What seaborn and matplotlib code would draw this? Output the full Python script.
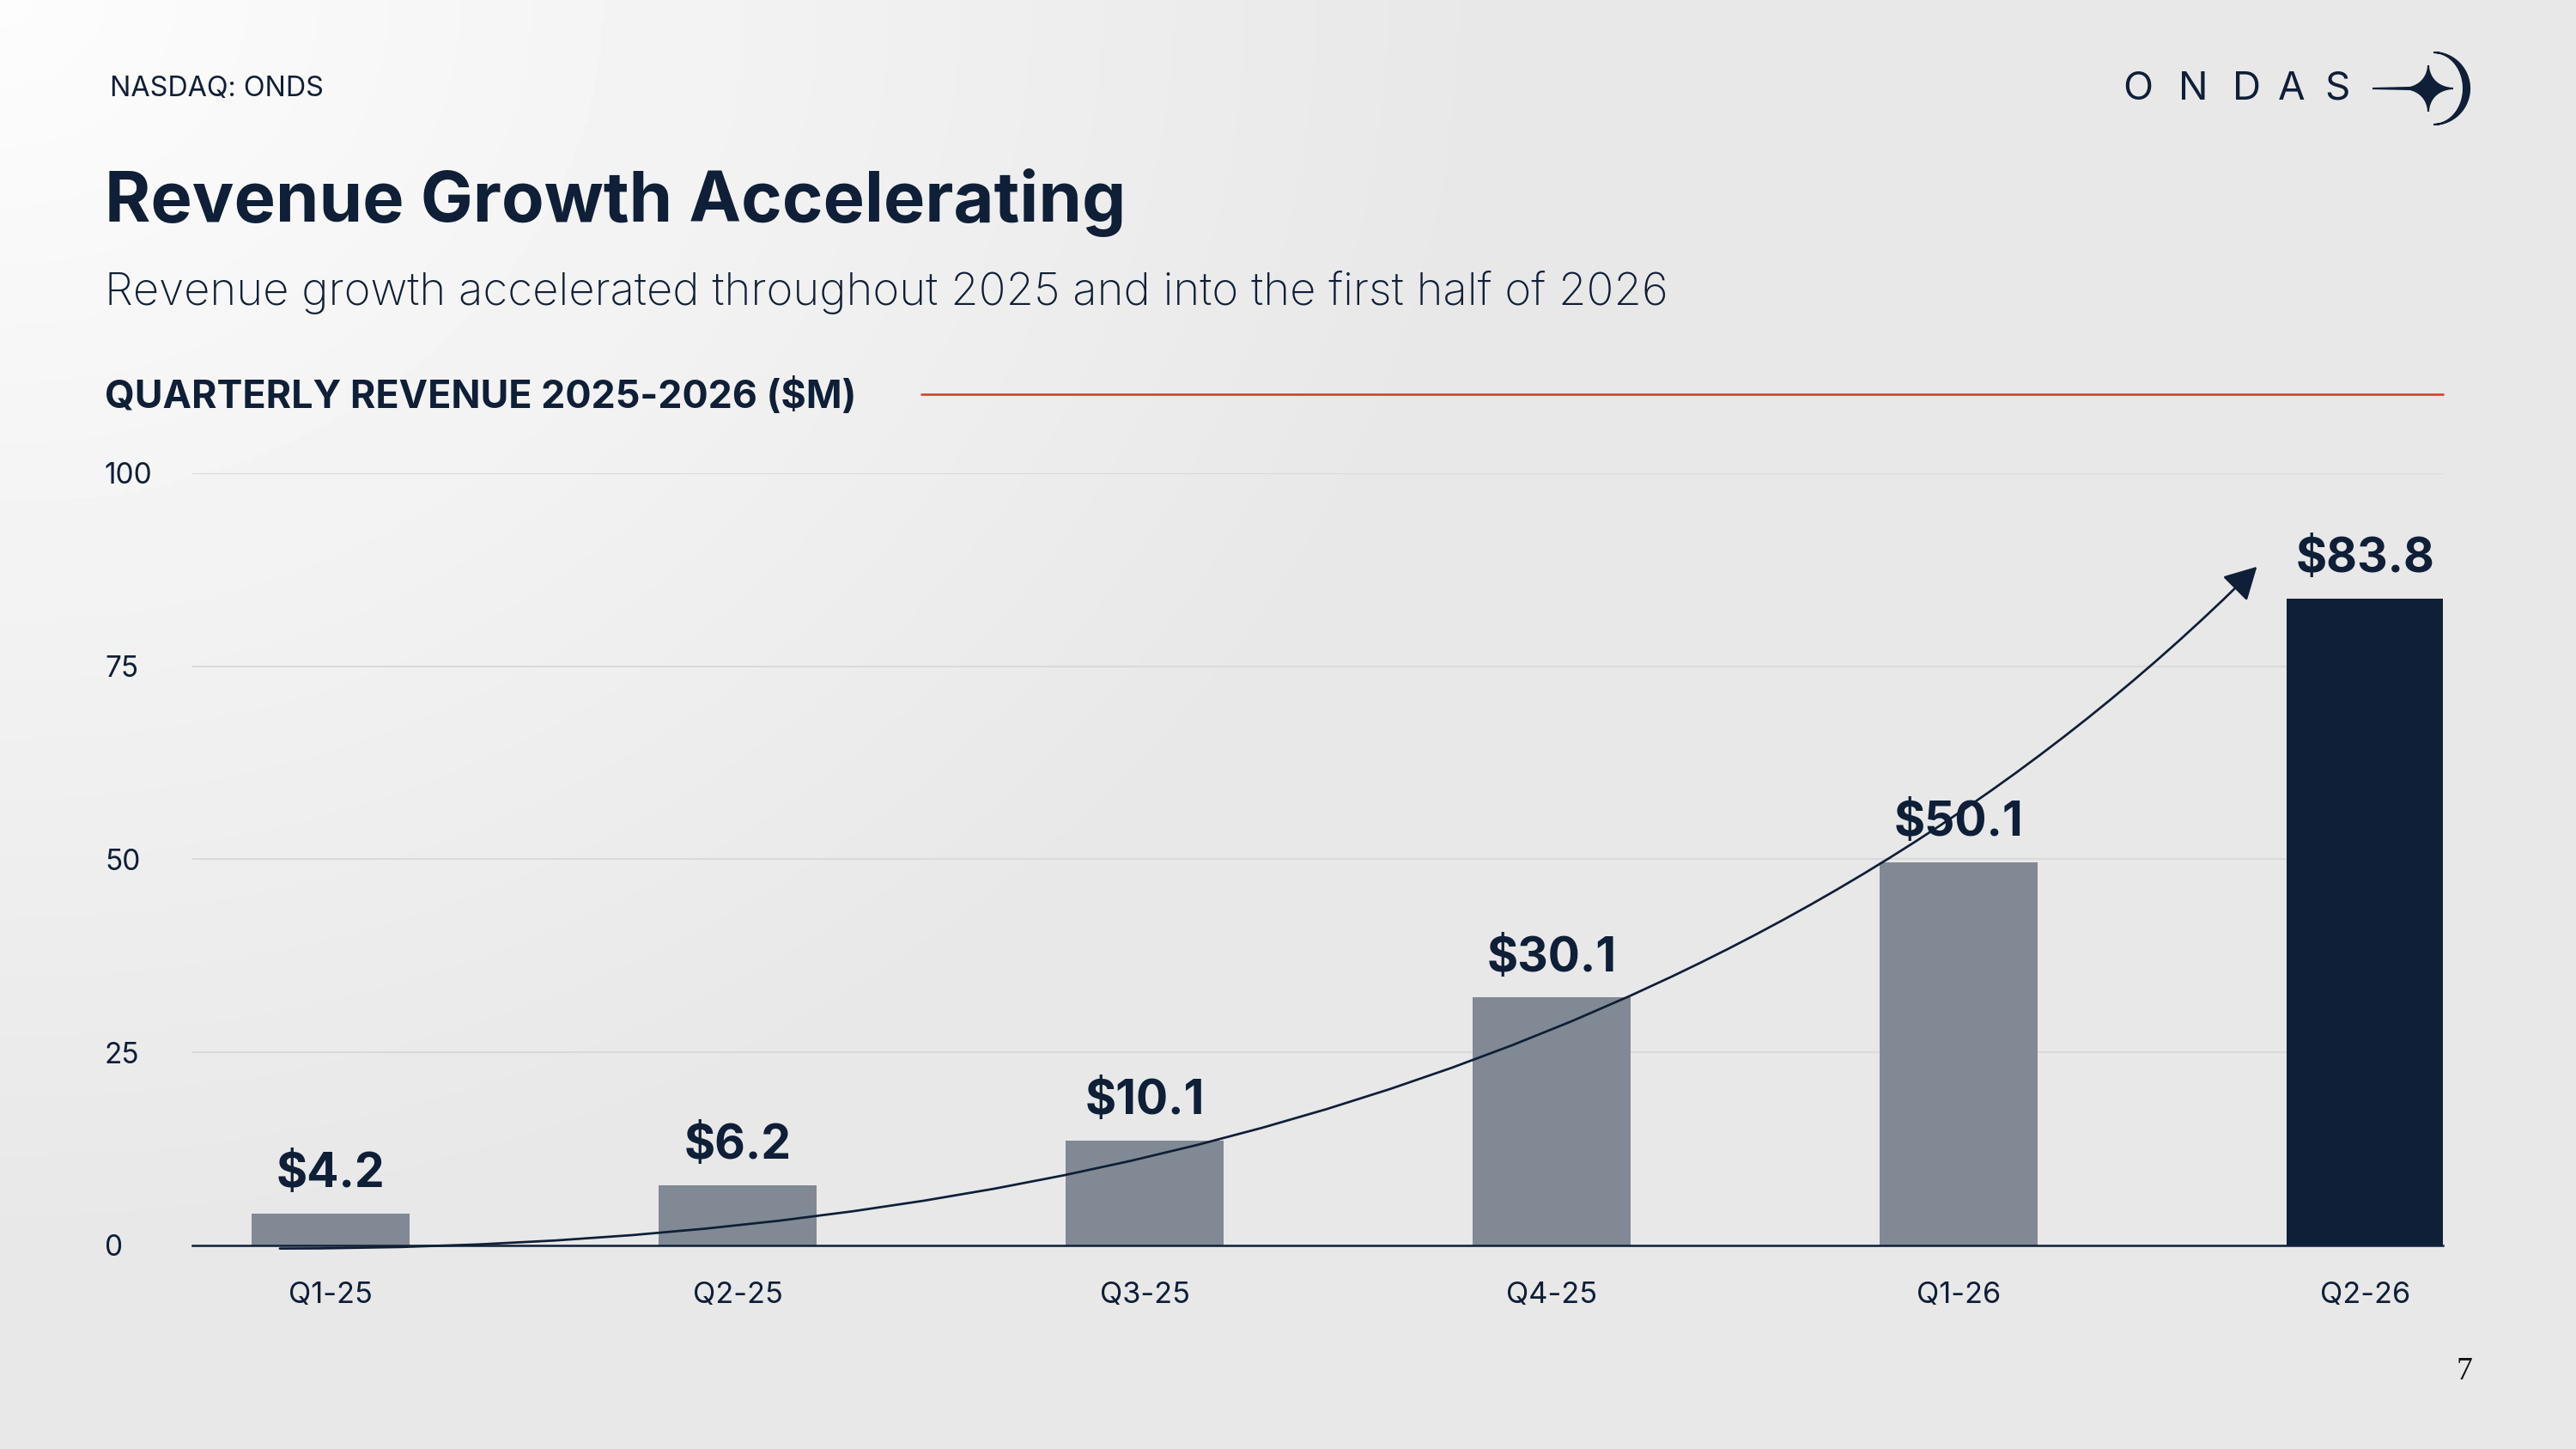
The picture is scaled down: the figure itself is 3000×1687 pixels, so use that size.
import numpy as np
import matplotlib.pyplot as plt
import seaborn as sns
from matplotlib.lines import Line2D
from matplotlib.patches import FancyArrowPatch, Polygon
from matplotlib.path import Path


quarters = ["Q1-25", "Q2-25", "Q3-25", "Q4-25", "Q1-26", "Q2-26"]
bar_heights = [4.1, 7.8, 13.6, 32.1, 49.6, 83.8]
value_labels = ["$4.2", "$6.2", "$10.1", "$30.1", "$50.1", "$83.8"]
y_ticks = [0, 25, 50, 75, 100]

NAVY = "#0e1f37"
GREY = "#818994"
RED = "#d2462f"
bar_colors = [GREY] * 5 + [NAVY]

sns.set_theme(style="white")
plt.rcParams["font.family"] = ["Inter", "DejaVu Sans"]

W, H = 3000, 1687
fig = plt.figure(figsize=(W / 150, H / 150), dpi=150)


def fx(px):
    return np.asarray(px) / W


def fy(py):
    return 1 - np.asarray(py) / H


# soft grey background, lighter in the top-left corner
bg = fig.add_axes([0, 0, 1, 1], zorder=-10)
yy, xx = np.mgrid[0:H:4, 0:W:4]
d = np.clip(np.hypot(xx, yy * 1.2) / 1700, 0, 1)
shade = 0.99 - 0.08 * d
bg.imshow(shade, cmap="gray", vmin=0, vmax=1, aspect="auto", extent=[0, 1, 0, 1])
bg.axis("off")

# main chart
ax = fig.add_axes([fx(224), fy(1450), fx(2845) - fx(224), (1450 - 551) / H])
ax.set_facecolor("none")
sns.barplot(
    x=quarters,
    y=bar_heights,
    hue=quarters,
    palette=bar_colors,
    width=0.387,
    saturation=1,
    linewidth=0,
    legend=False,
    ax=ax,
    zorder=2,
)
ax.set_xlim(-0.34, 5.19)
ax.set_ylim(0, 100)
ax.set_yticks(y_ticks)
ax.set_yticklabels([str(t) for t in y_ticks], ha="left")
ax.yaxis.grid(True, color="#dadada", lw=1)
ax.set_axisbelow(True)
ax.set_xlabel("")
ax.set_ylabel("")
sns.despine(ax=ax, left=True)
ax.spines["bottom"].set_color(NAVY)
ax.spines["bottom"].set_linewidth(1.2)
ax.spines["bottom"].set_zorder(3)
ax.tick_params(axis="y", length=0, pad=49, labelsize=16, labelcolor=NAVY)
ax.tick_params(axis="x", length=0, pad=20, labelsize=16.5, labelcolor=NAVY)

for i, (h, lab) in enumerate(zip(bar_heights, value_labels)):
    ax.annotate(
        lab,
        (i, h),
        xytext=(0, 22),
        textcoords="offset points",
        ha="center",
        va="center",
        fontsize=26.5,
        fontweight="bold",
        color=NAVY,
    )

# growth arrow
curve = Path(
    [(-0.125, -0.4), (3.055, -0.44), (4.733, 87.9)],
    [Path.MOVETO, Path.CURVE3, Path.CURVE3],
)
arrow = FancyArrowPatch(
    path=curve,
    arrowstyle="-|>,head_length=0.77,head_width=0.42",
    mutation_scale=20,
    lw=1.3,
    color=NAVY,
    zorder=5,
    clip_on=False,
)
ax.add_patch(arrow)

# header texts
fig.text(fx(128), fy(104), "NASDAQ: ONDS", fontsize=15.5, va="center", color=NAVY)
fig.text(
    fx(122), fy(236), "Revenue Growth Accelerating",
    fontsize=39, fontweight="bold", va="center", color=NAVY,
)
fig.text(
    fx(122), fy(340),
    "Revenue growth accelerated throughout 2025 and into the first half of 2026",
    fontsize=25.3, fontweight="light", va="center", color=NAVY,
)
fig.text(
    fx(122), fy(462), "QUARTERLY REVENUE 2025-2026 ($M)",
    fontsize=21.5, fontweight="bold", va="center", color=NAVY,
)
fig.add_artist(Line2D(fx([1073, 2845]), fy([459, 459]), color=RED, lw=1.3))
fig.text(fx(2870), fy(1597), "7", family="Liberation Serif", fontsize=18,
         ha="center", va="center", color="#111111")

# logo
for letter, cx in zip("ONDAS", [2490, 2554, 2616, 2669, 2722]):
    fig.text(fx(cx), fy(104), letter, fontsize=22, ha="center", va="center",
             color=NAVY)
t = np.linspace(0, 2 * np.pi, 200)
sx = 2828 + 29 * np.sign(np.cos(t)) * np.abs(np.cos(t)) ** 3.6
sy = 103 + 27 * np.sign(np.sin(t)) * np.abs(np.sin(t)) ** 3.6
fig.add_artist(Polygon(np.column_stack([fx(sx), fy(sy)]), closed=True,
                       color=NAVY, transform=fig.transFigure))
fig.add_artist(Polygon(np.column_stack([fx([2763, 2828, 2828]), fy([103, 101.5, 104.5])]),
                       closed=True, color=NAVY, transform=fig.transFigure))
a = np.linspace(-np.pi / 2, np.pi / 2, 100)
ox = 2834 + 42 * np.cos(a)
oy = 103 - 42 * np.sin(a)
ix = 2834 + 35 * np.cos(a[::-1])
iy = 103 - 42 * np.sin(a[::-1])
fig.add_artist(Polygon(np.column_stack([fx(np.r_[ox, ix]), fy(np.r_[oy, iy])]),
                       closed=True, color=NAVY, transform=fig.transFigure))

fig.savefig("out.png", dpi=150)
